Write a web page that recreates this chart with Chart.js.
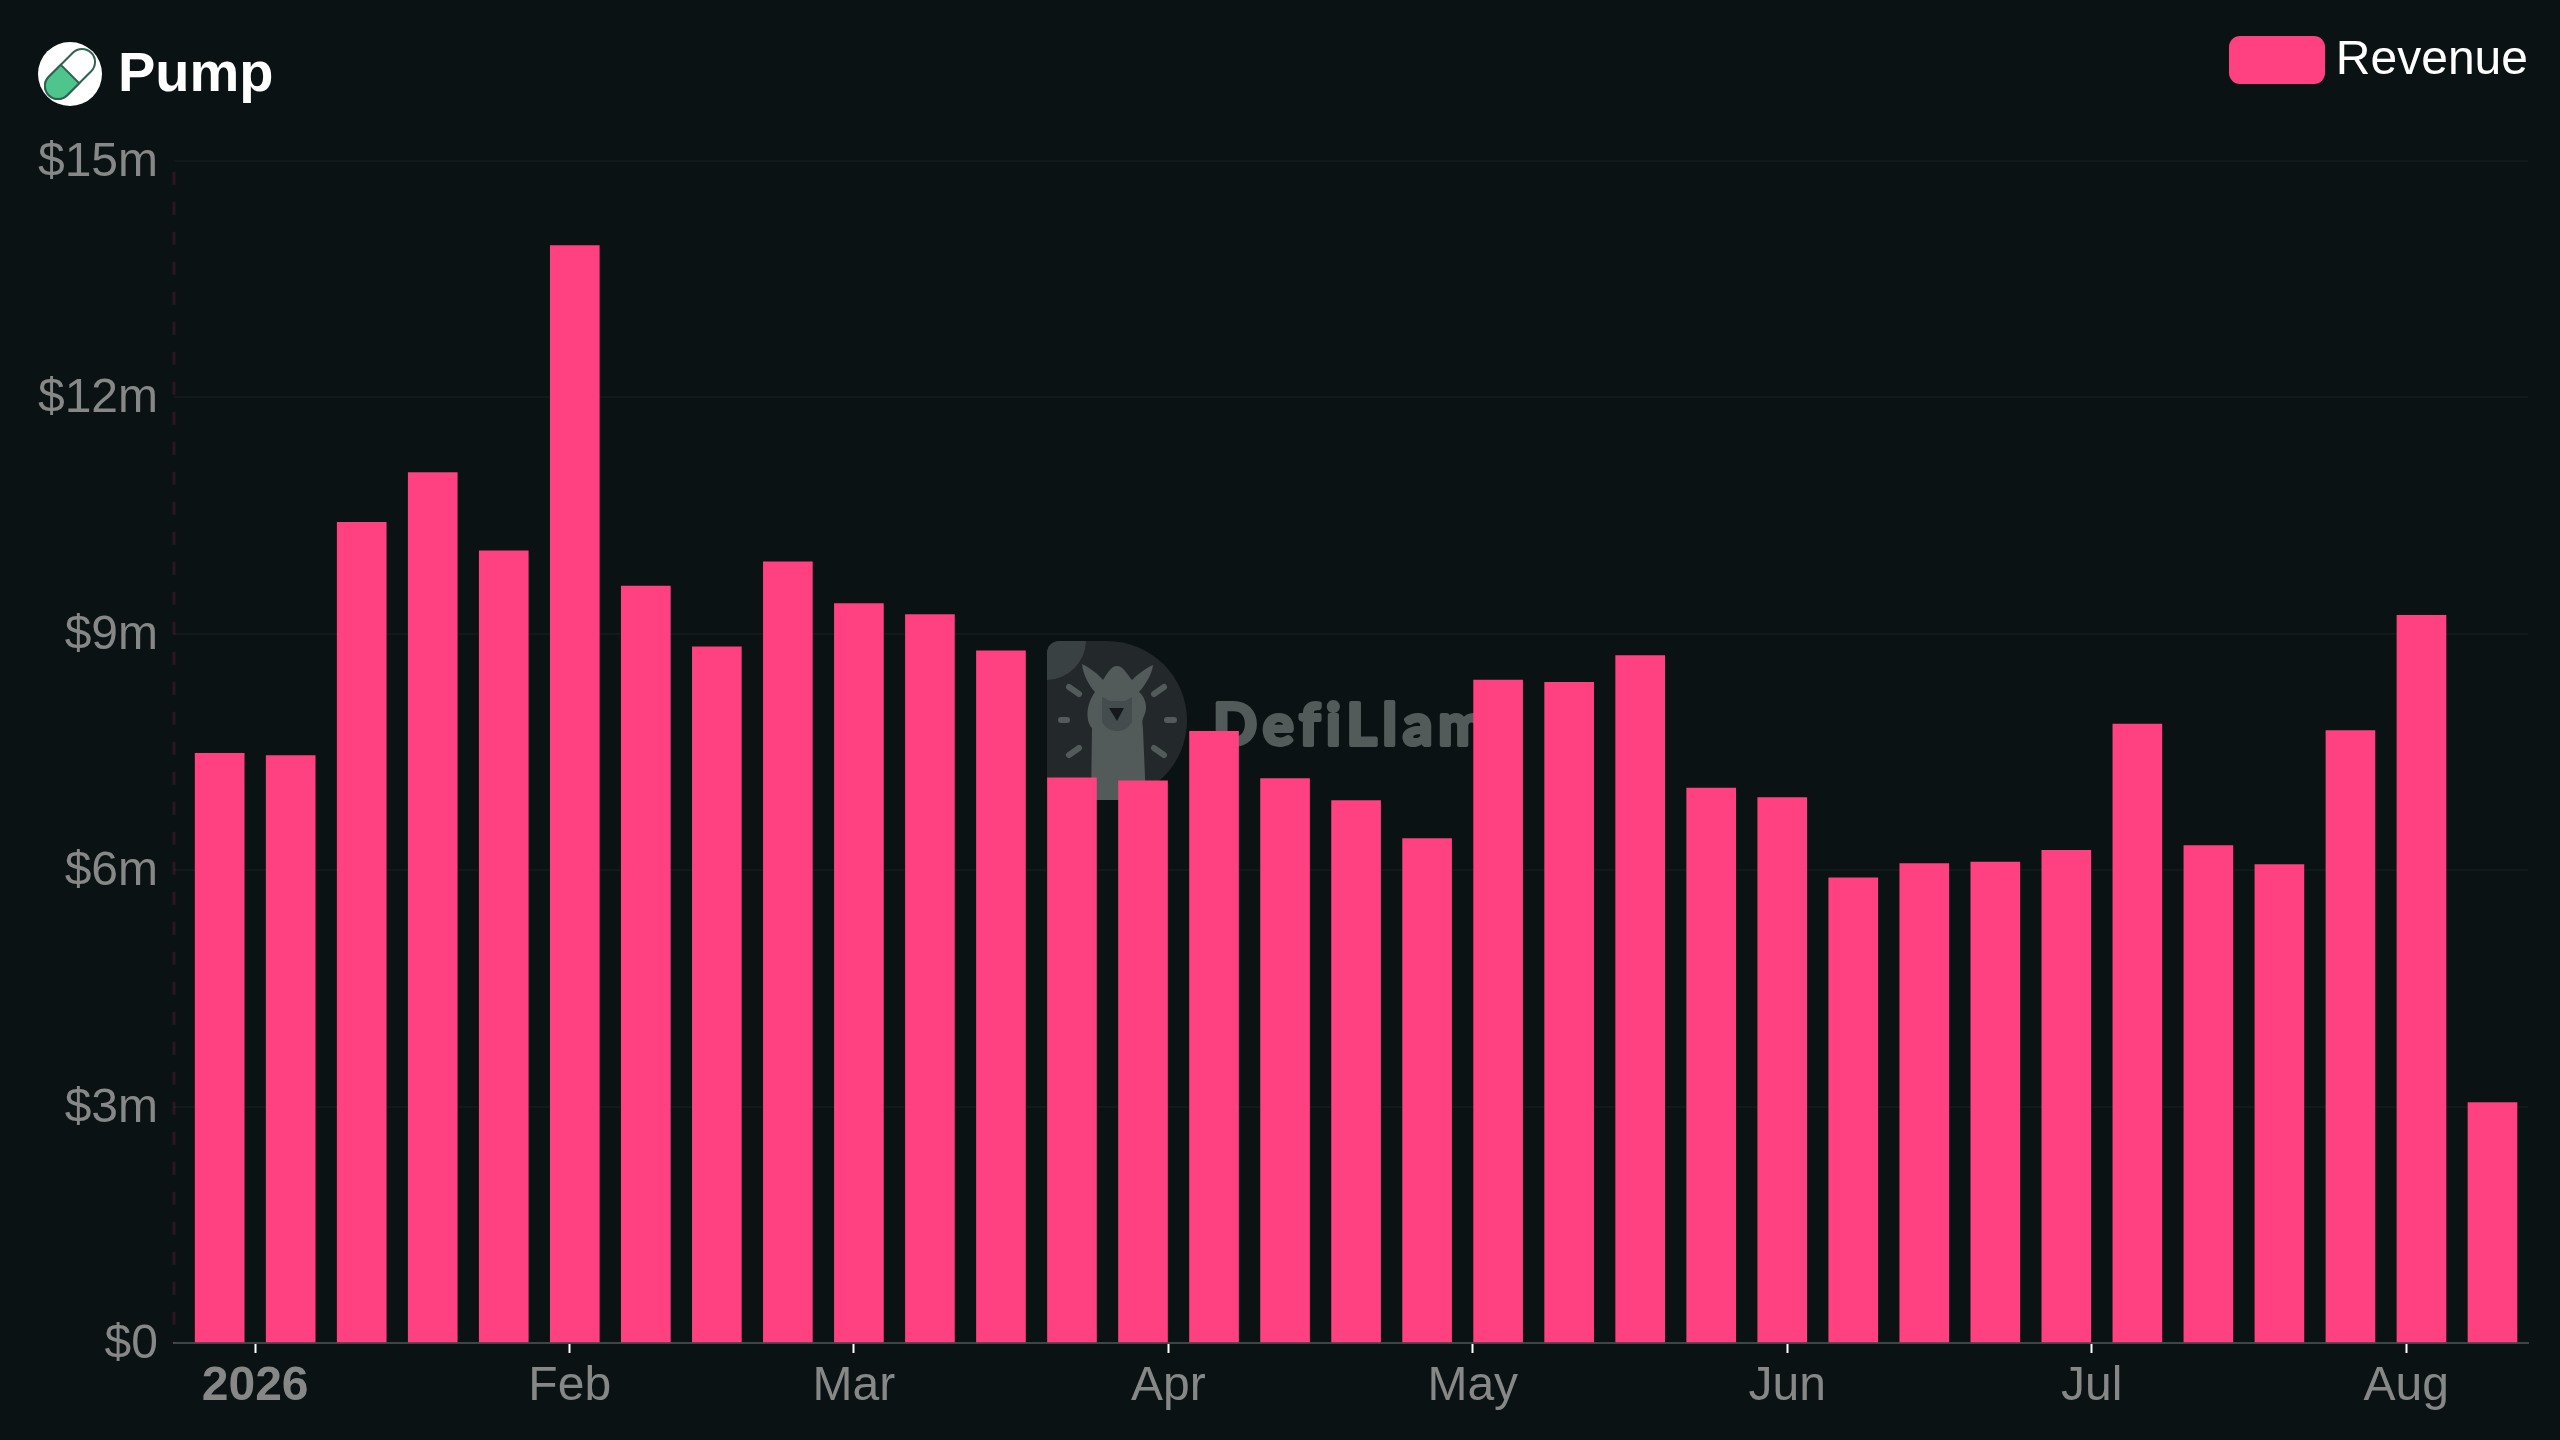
<!DOCTYPE html>
<html>
<head>
<meta charset="utf-8">
<title>Pump Revenue</title>
<script src="https://cdn.jsdelivr.net/npm/chart.js@4/dist/chart.umd.min.js"></script>
<style>
    html, body { margin: 0; padding: 0; background: #0b1214; }
    body { position: relative; width: 2560px; height: 1440px; overflow: hidden; font-family: "Liberation Sans", sans-serif; }
    #watermark { position: absolute; left: 0; top: 0; z-index: 0; }
    #revenueChart { position: absolute; left: 0; top: 0; z-index: 1; }
    #icon { position: absolute; left: 0; top: 0; z-index: 2; }
    #title { position: absolute; left: 118px; top: 40px; z-index: 2; font-size: 56px; line-height: 64px; font-weight: bold; color: #fff; }
    #legend { position: absolute; right: 32px; top: 36px; z-index: 2; display: flex; align-items: center; font-size: 48px; line-height: 48px; color: #fff; }
    #legend .swatch { width: 96px; height: 48px; border-radius: 11px; margin-right: 11px; }
    #legend .name { position: relative; top: -2px; }
</style>
</head>
<body>
<svg id="watermark" width="2560" height="1440">
    <path d="M1059 641 H1107 A80 79.5 0 0 1 1107 800 H1059 A12 12 0 0 1 1047 788 V653 A12 12 0 0 1 1059 641 Z" fill="#23292b"/>
    <path d="M1059 641 H1086 A40 40 0 0 1 1047 680 V653 A12 12 0 0 1 1059 641 Z" fill="#3a4142"/>
    <path d="M1082 664 C1090 668 1098 674 1103 680 C1107 674 1111 666 1117 666 C1123 666 1127 674 1132 680 C1138 674 1146 668 1153 665 C1152 674 1146 684 1139 692 C1146 698 1148 708 1144 716 C1141 722 1143 724 1143 730 L1146 800 H1091 L1092 728 C1086 722 1085 706 1095 692 C1088 684 1083 674 1082 664 Z" fill="#535a5a"/>
    <path d="M1102 697 L1110 701 H1125 L1132 697 L1132 722 C1128 729 1122 731 1117 731 C1112 731 1106 729 1102 722 Z" fill="#454c4d"/>
    <path d="M1109 708 H1124 L1117 721 Z" fill="#15191b"/>
    <g stroke="#535a5a" stroke-width="6" stroke-linecap="round">
        <path d="M1069 687 L1079 694"/>
        <path d="M1061 720 H1067"/>
        <path d="M1069 755 L1079 748"/>
        <path d="M1154 694 L1164 687"/>
        <path d="M1167 720 H1174"/>
        <path d="M1154 748 L1164 755"/>
    </g>
    <text x="1213" y="745" font-family="Lato" font-weight="bold" font-size="58" letter-spacing="6" fill="#535a5a" stroke="#535a5a" stroke-width="4" stroke-linejoin="round">DefiLlama</text>
</svg>
<canvas id="revenueChart" width="2560" height="1440"></canvas>
<svg id="icon" width="120" height="120">
    <circle cx="70" cy="74" r="32" fill="#fff"/>
    <g transform="rotate(-45 70 74)">
        <rect x="40" y="61" width="60" height="26" rx="13" fill="#fff" stroke="#2f6350" stroke-width="2"/>
        <path d="M53 61 H70 V87 H53 A13 13 0 0 1 53 61 Z" fill="#4fc58e" stroke="#2f6350" stroke-width="2"/>
    </g>
</svg>
<div id="title">Pump</div>
<div id="legend"></div>

<script>
// Pump weekly revenue, bars start on the Sunday of each week

const seriesName = 'Revenue';

const weekDates = [
    '2025-12-28', '2026-01-04', '2026-01-11', '2026-01-18', '2026-01-25',
    '2026-02-01', '2026-02-08', '2026-02-15', '2026-02-22',
    '2026-03-01', '2026-03-08', '2026-03-15', '2026-03-22', '2026-03-29',
    '2026-04-05', '2026-04-12', '2026-04-19', '2026-04-26',
    '2026-05-03', '2026-05-10', '2026-05-17', '2026-05-24', '2026-05-31',
    '2026-06-07', '2026-06-14', '2026-06-21', '2026-06-28',
    '2026-07-05', '2026-07-12', '2026-07-19', '2026-07-26',
    '2026-08-02', '2026-08-09'
];

// Revenue in $m
const revenue = [
    7.48, 7.45, 10.41, 11.04, 10.05,
    13.92, 9.60, 8.83, 9.91,
    9.38, 9.24, 8.78, 7.17, 7.13,
    7.76, 7.16, 6.88, 6.40,
    8.41, 8.38, 8.72, 7.04, 6.92,
    5.90, 6.08, 6.10, 6.25,
    7.85, 6.31, 6.07, 7.77,
    9.23, 3.05
];

const monthTicks = ['2026-01-01', '2026-02-01', '2026-03-01', '2026-04-01', '2026-05-01', '2026-06-01', '2026-07-01', '2026-08-01'];
const monthLabels = ['2026', 'Feb', 'Mar', 'Apr', 'May', 'Jun', 'Jul', 'Aug'];
const revenueTicks = [0, 3, 6, 9, 12, 15];

const colors = {
    bar: '#ff4081',
    text: '#868787',
    grid: 'rgba(255, 255, 255, 0.03)',
    axis: '#3f4546',
    yBorder: 'rgba(255, 64, 129, 0.13)'
};

const DAY = 86400000;
const dayOf = date => Date.parse(date + 'T00:00:00Z') / DAY;

Chart.defaults.font.family = '"Liberation Sans", sans-serif';
Chart.defaults.font.size = 48;
Chart.defaults.color = colors.text;

// border.dash only applies to grid lines, so the dashed y axis line is stroked here
const dashedYAxis = {
    id: 'dashedYAxis',
    beforeDatasetsDraw(chart) {
        const { ctx, chartArea } = chart;
        ctx.save();
        ctx.strokeStyle = colors.yBorder;
        ctx.lineWidth = 3;
        ctx.setLineDash([13, 17]);
        ctx.lineDashOffset = 18.7;
        ctx.beginPath();
        ctx.moveTo(chartArea.left, chartArea.top);
        ctx.lineTo(chartArea.left, chartArea.bottom);
        ctx.stroke();
        ctx.restore();
    }
};

const chart = new Chart(document.getElementById('revenueChart').getContext('2d'), {
    type: 'bar',
    plugins: [dashedYAxis],
    data: {
        datasets: [{
            label: seriesName,
            // weeks sit half a day after their start date on the time axis
            data: weekDates.map((date, i) => ({ x: dayOf(date) + 0.5, y: revenue[i] })),
            backgroundColor: colors.bar,
            borderWidth: 0,
            barThickness: 49
        }]
    },
    options: {
        responsive: false,
        animation: false,
        layout: {
            padding: { top: 160.5, right: 32, left: 0, bottom: 0 }
        },
        plugins: {
            legend: { display: false },
            title: { display: false },
            tooltip: { enabled: false }
        },
        scales: {
            x: {
                type: 'linear',
                offset: false,
                min: dayOf('2025-12-24'),
                max: dayOf('2026-08-13'),
                afterBuildTicks: scale => {
                    scale.ticks = monthTicks.map(date => ({ value: dayOf(date) }));
                },
                afterFit: scale => {
                    scale.height = 97;
                },
                grid: {
                    offset: false,
                    drawOnChartArea: false,
                    drawTicks: true,
                    tickLength: 10,
                    tickWidth: 2,
                    tickColor: '#fff'
                },
                border: { display: true, color: colors.axis, width: 2 },
                ticks: {
                    autoSkip: false,
                    maxRotation: 0,
                    padding: 5,
                    callback: (value, i) => monthLabels[i],
                    font: ctx => ({ size: 48, weight: ctx.index === 0 ? 'bold' : 'normal' })
                }
            },
            y: {
                min: 0,
                max: 15,
                afterBuildTicks: scale => {
                    scale.ticks = revenueTicks.map(value => ({ value }));
                },
                afterFit: scale => {
                    scale.width = 174;
                },
                grid: {
                    color: colors.grid,
                    lineWidth: 2,
                    drawTicks: false
                },
                border: { display: false },
                ticks: {
                    padding: 16,
                    labelOffset: 2,
                    callback: value => (value === 0 ? '$0' : `$${value}m`)
                }
            }
        }
    }
});

/**
 * Build the legend next to the chart from its datasets
 */
function renderLegend() {
    document.getElementById('legend').innerHTML = chart.data.datasets.map(set => `
        <span class="swatch" style="background:${set.backgroundColor}"></span>
        <span class="name">${set.label}</span>
    `).join('');
}

renderLegend();
</script>
</body>
</html>
